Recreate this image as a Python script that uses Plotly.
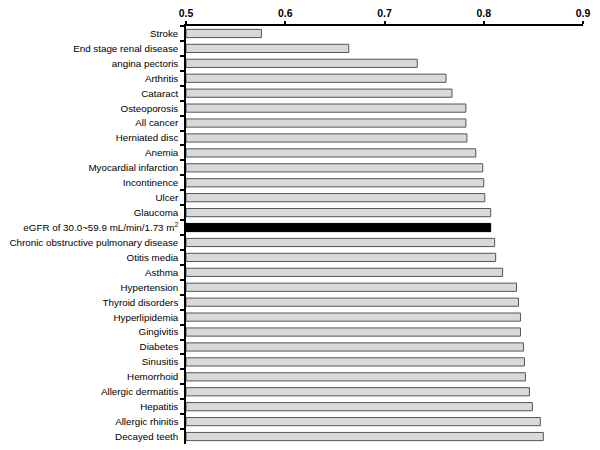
import plotly.graph_objects as go

categories = [
    "Stroke", "End stage renal disease", "angina pectoris", "Arthritis", "Cataract",
    "Osteoporosis", "All cancer", "Herniated disc", "Anemia", "Myocardial infarction",
    "Incontinence", "Ulcer", "Glaucoma", "eGFR of 30.0~59.9 mL/min/1.73 m<sup>2</sup>",
    "Chronic obstructive pulmonary disease", "Otitis media", "Asthma", "Hypertension",
    "Thyroid disorders", "Hyperlipidemia", "Gingivitis", "Diabetes", "Sinusitis",
    "Hemorrhoid", "Allergic dermatitis", "Hepatitis", "Allergic rhinitis", "Decayed teeth",
]
values = [
    0.576, 0.664, 0.733, 0.762, 0.768,
    0.782, 0.782, 0.783, 0.792, 0.799,
    0.800, 0.801, 0.807, 0.807,
    0.811, 0.812, 0.819, 0.833,
    0.835, 0.837, 0.837, 0.840, 0.841,
    0.842, 0.846, 0.849, 0.857, 0.860,
]
highlight = "eGFR of 30.0~59.9 mL/min/1.73 m<sup>2</sup>"
x_ticks = [0.5, 0.6, 0.7, 0.8, 0.9]

colors = ["#000000" if c == highlight else "#d9d9d9" for c in categories]
line_colors = ["#000000" if c == highlight else "#555555" for c in categories]

base_value = 0.5
fig = go.Figure(go.Bar(
    y=categories,
    x=[v - base_value for v in values],
    base=base_value,
    orientation="h",
    width=0.55,
    marker=dict(color=colors, line=dict(color=line_colors, width=1)),
))

fig.update_layout(
    width=592, height=442,
    margin=dict(l=178, r=17, t=18, b=6),
    plot_bgcolor="white", paper_bgcolor="white",
    showlegend=False,
    font=dict(family="Liberation Sans, Arial, sans-serif", size=10, color="black"),
)
fig.update_xaxes(
    side="top", range=[0.5, 0.9], tickvals=x_ticks, ticktext=[f"<b>{t:.1f}</b>" for t in x_ticks],
    showgrid=False, zeroline=False, showline=True, linecolor="black", linewidth=1.5,
    ticks="outside", ticklen=3, tickcolor="black", tickwidth=1.5,
    tickfont=dict(family="Liberation Sans, Arial, sans-serif", size=10.5, color="black"),
    automargin=False, ticklabeloverflow="allow",
)
fig.update_yaxes(
    type="category", autorange="reversed", tickson="boundaries",
    showgrid=False, zeroline=False, showline=True, linecolor="black", linewidth=1.5,
    ticks="outside", ticklen=4, tickcolor="black", tickwidth=1.5,
    tickfont=dict(size=9.8, color="black"), ticklabelstandoff=4,
    automargin=False,
)

fig.write_html("out.html")
